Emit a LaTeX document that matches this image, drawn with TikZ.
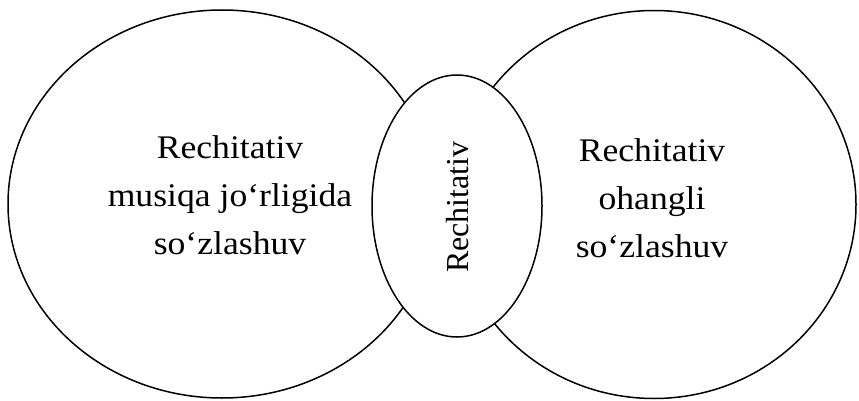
\documentclass[tikz,border=0pt]{standalone}
\usepackage{fontspec}
\usetikzlibrary{shapes.geometric}
\newfontfamily\tnr[FakeStretch=1.08]{Liberation Serif}
\newfontfamily\tnrv{Liberation Serif}
\begin{document}
\begin{tikzpicture}[x=1pt,y=1pt,
  bigoval/.style={ellipse, draw=black, line width=1.5pt, inner sep=0pt},
  label text/.style={align=center, font=\tnr\fontsize{33}{48}\selectfont, inner sep=0pt}]
\useasboundingbox (0,0) rectangle (859,400);
\fill[white] (0,0) rectangle (859,400);
\node[bigoval, minimum width=428pt, minimum height=388pt] (left) at (222,196) {};
\node[bigoval, minimum width=404pt, minimum height=388pt] (right) at (654,195.5) {};
\node[bigoval, fill=white, minimum width=170pt, minimum height=262pt] (mid) at (457,194) {};
\node[label text] (ltext) at (230,205) {Rechitativ\\musiqa jo‘rligida\\so‘zlashuv};
\node[label text] (rtext) at (652,202) {Rechitativ\\ohangli\\so‘zlashuv};
\node[font=\tnrv\fontsize{32}{36}\selectfont, rotate=90, inner sep=0pt] (mtext) at (458,193) {Rechitativ};
\end{tikzpicture}
\end{document}
